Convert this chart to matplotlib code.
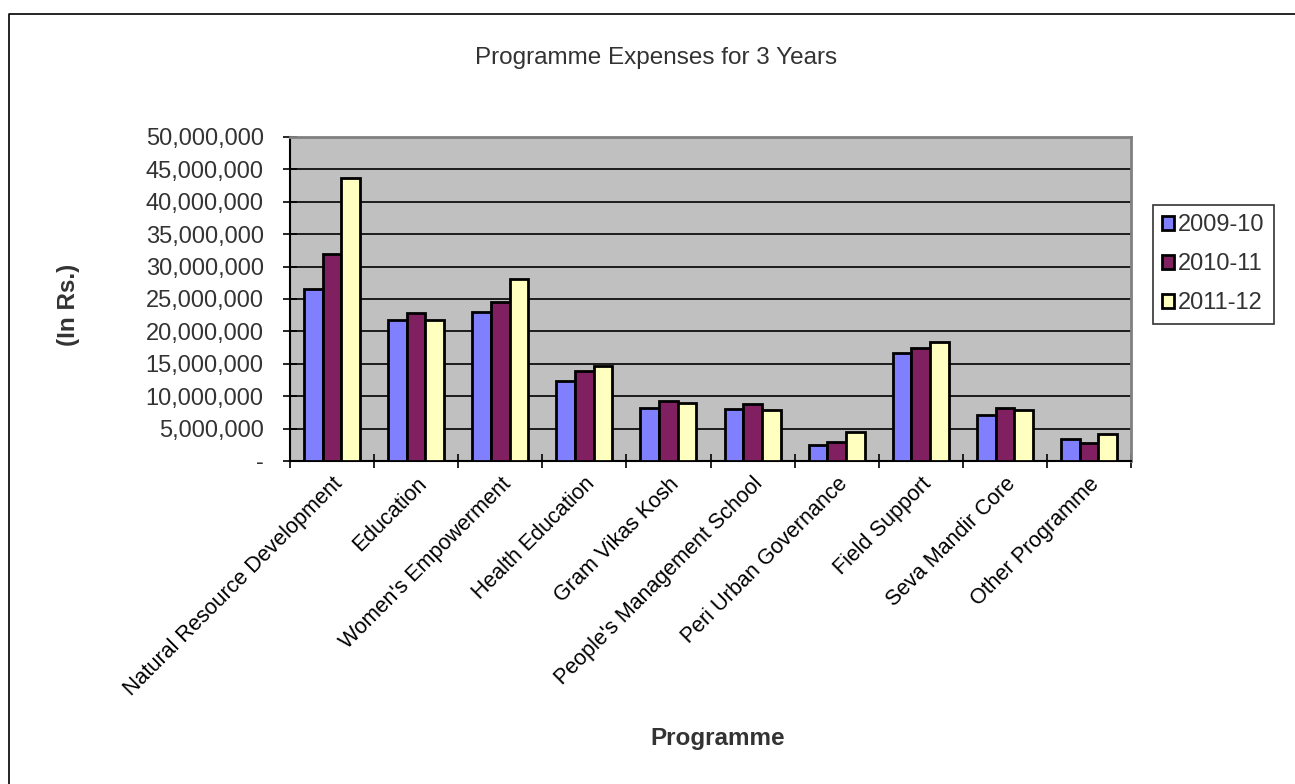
import numpy as np
import matplotlib.pyplot as plt
from matplotlib.lines import Line2D
from matplotlib.ticker import FuncFormatter

plt.rcParams['font.family'] = ['Liberation Sans', 'DejaVu Sans']

# Данные
programmes = ['Natural Resource Development', 'Education', "Women's Empowerment",
              'Health Education', 'Gram Vikas Kosh', "People's Management School",
              'Peri Urban Governance', 'Field Support', 'Seva Mandir Core',
              'Other Programme']
years = ['2009-10', '2010-11', '2011-12']
y2009 = [26500000, 21700000, 23000000, 12400000, 8250000, 8100000, 2500000, 16600000, 7050000, 3450000]
y2010 = [31900000, 22800000, 24600000, 13900000, 9200000, 8800000, 2900000, 17400000, 8200000, 2800000]
y2011 = [43700000, 21700000, 28100000, 14700000, 9000000, 7800000, 4500000, 18400000, 7900000, 4100000]
colors = ['#8080FF', '#802060', '#FFFFC0']

W, H = 1295, 784
fig = plt.figure(figsize=(W / 100, H / 100), dpi=100)

# рамка: видны только верх и левый край
fig.lines.append(Line2D([8.5 / W, 8.5 / W, 1], [0, 1 - 13.5 / H, 1 - 13.5 / H],
                        transform=fig.transFigure, color='black', linewidth=1.2))

ax = fig.add_axes([290 / W, (H - 461) / H, 841 / W, 324 / H])
ax.set_facecolor('#C0C0C0')

x = np.arange(len(programmes))
bw = 1 / 4.5
for i, (vals, lab) in enumerate(zip([y2009, y2010, y2011], years)):
    ax.bar(x + (i - 1) * bw, vals, width=bw, color=colors[i], edgecolor='black',
           linewidth=2, label=lab, zorder=3)

ax.set_xlim(-0.5, len(programmes) - 0.5)
ax.set_ylim(0, 50000000)
ax.set_yticks(np.arange(0, 50000001, 5000000))
ax.yaxis.set_major_formatter(FuncFormatter(lambda v, p: '-' if v == 0 else f'{int(v):,}'))
ax.grid(axis='y', color='black', linewidth=1.2, zorder=1)
ax.tick_params(axis='y', labelsize=17, colors='black', labelcolor='#333333',
               length=10, width=1.2, direction='inout', pad=14)

ax.set_xticks(x)
ax.set_xticklabels(programmes, rotation=45, ha='right', va='top', rotation_mode='anchor',
                   fontsize=15.5, color='black')
ax.set_xticks(np.arange(-0.5, len(programmes)), minor=True)
ax.tick_params(axis='x', which='major', length=0, pad=9)
ax.tick_params(axis='x', which='minor', length=10, width=1.2, direction='inout')

for s in ['top', 'right']:
    ax.spines[s].set_color('#808080')
    ax.spines[s].set_linewidth(2)
for s in ['left', 'bottom']:
    ax.spines[s].set_color('black')
    ax.spines[s].set_linewidth(1.5)

fig.text(656 / W, 1 - 58 / H, 'Programme Expenses for 3 Years', ha='center', va='center',
         fontsize=17.5, color='#333333')
fig.text(69 / W, 1 - 305 / H, '(In Rs.)', ha='center', va='center', rotation=90,
         fontsize=17.5, fontweight='bold', color='#333333')
fig.text(718 / W, 1 - 738 / H, 'Programme', ha='center', va='center',
         fontsize=17.5, fontweight='bold', color='#333333')

leg = ax.legend(loc='upper left', bbox_to_anchor=(1153 / W, 1 - 205 / H),
                bbox_transform=fig.transFigure, fontsize=17, frameon=True, fancybox=False,
                handlelength=0.5, handleheight=0.5, handletextpad=0.15, labelspacing=0.72,
                borderpad=0.4, borderaxespad=0, labelcolor='#333333')
leg.get_frame().set_edgecolor('black')
leg.get_frame().set_linewidth(1.2)

fig.savefig('out.png', dpi=100)
